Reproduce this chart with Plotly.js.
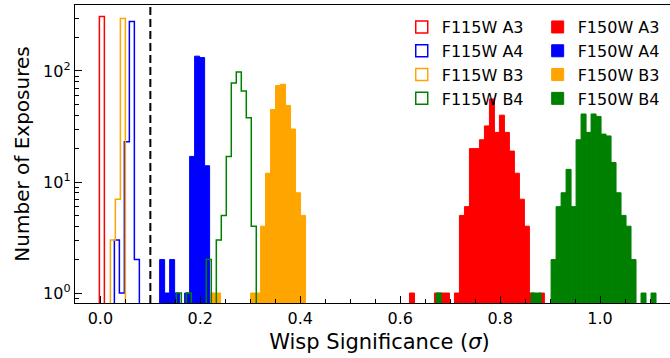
<!DOCTYPE html>
<html><head><meta charset="utf-8">
<script src="https://cdn.plot.ly/plotly-3.0.1.min.js"></script>
<style>html,body{margin:0;padding:0;overflow:hidden;width:670px;height:358px;background:#fff}</style>
</head><body><div id="chart"></div>
<script>
// ---- data ----
const binWidth = 0.01;
const threshold = 0.1;

// F115W (step histograms): first bin left edge and counts per 0.01 bin
const f115wA3Start = -0.002;
const f115wA3Counts = [310];
const f115wA4Start = 0.028;
const f115wA4Counts = [3, 1, 23, 279, 2];
const f115wB3Start = 0.020;
const f115wB3Counts = [3, 7, 297];
const f115wB4Start = 0.152;
const f115wB4Counts = [1, 0, 1, 0, 0, 0, 2, 0, 3, 5, 17, 78, 98, 66, 38, 4];

// F150W (filled histograms)
const f150wA3Start = 0.6186;
const f150wA3Counts = [1, 0, 0, 0, 0, 1, 1, 1, 0, 1, 5, 6, 20, 20, 24, 32, 56, 28, 40, 28, 19, 12, 7, 4, 1, 0, 1];
const f150wA4Start = 0.1186;
const f150wA4Counts = [2, 1, 2, 1, 0, 1, 17, 136, 132, 14];
const f150wB3Start = 0.2206;
const f150wB3Counts = [1, 1, 0, 0, 0, 0, 0, 0, 1, 1, 4, 12, 45, 74, 76, 49, 30, 8, 5];
const f150wB4Start = 0.672;
const f150wB4Counts = [1, 0, 0, 0, 0, 0, 0, 0, 0, 0, 0, 0, 0, 0, 0, 0, 0, 0, 0, 1, 1, 0, 0,
  2, 6, 8, 13, 6, 24, 41, 28, 41, 39, 27, 26, 15, 8, 5, 4, 2, 0, 1, 0, 1];

const xTickVals = [0.0, 0.2, 0.4, 0.6, 0.8, 1.0];
const yTickVals = [1, 10, 100];
const yTickText = ['10<sup>0</sup>', '10<sup>1</sup>', '10<sup>2</sup>'];
const yMinorVals = [0.9, 2, 3, 4, 5, 6, 7, 8, 9, 20, 30, 40, 50, 60, 70, 80, 90, 200, 300];

const RED = '#ff0000', BLUE = '#0000ff', ORANGE = '#ffa500', GREEN = '#008000';
const FONT = 'DejaVu Sans, sans-serif';

// ---- helpers ----
const FLOOR = 1e-3;
function stepTrace(start, counts, color, name) {
  const xs = [start], ys = [FLOOR];
  counts.forEach((c, i) => { xs.push(start + i * binWidth); ys.push(c > 0 ? c : FLOOR); });
  xs.push(start + counts.length * binWidth); ys.push(FLOOR);
  return {type: 'scatter', mode: 'lines', x: xs, y: ys, name: name,
    line: {color: color, width: 1.5, shape: 'hv'}, showlegend: false, hoverinfo: 'skip'};
}
function stepLegendProxy(color, name) {
  return {type: 'bar', x: [null], y: [null], name: name, legend: 'legend',
    marker: {color: 'rgba(0,0,0,0)', line: {color: color, width: 1.5}}};
}
function filledTrace(start, counts, color, name) {
  const xs = counts.map((c, i) => start + (i + 0.5) * binWidth);
  const ys = counts.map(c => c > 0 ? c : null);
  return {type: 'bar', x: xs, y: ys, width: binWidth, name: name, legend: 'legend2',
    marker: {color: color, line: {color: color, width: 1}}};
}

const traces = [
  filledTrace(f150wA3Start, f150wA3Counts, RED, 'F150W A3'),
  filledTrace(f150wA4Start, f150wA4Counts, BLUE, 'F150W A4'),
  filledTrace(f150wB3Start, f150wB3Counts, ORANGE, 'F150W B3'),
  filledTrace(f150wB4Start, f150wB4Counts, GREEN, 'F150W B4'),
  stepTrace(f115wA3Start, f115wA3Counts, RED, 'F115W A3'),
  stepTrace(f115wA4Start, f115wA4Counts, BLUE, 'F115W A4'),
  stepTrace(f115wB3Start, f115wB3Counts, ORANGE, 'F115W B3'),
  stepTrace(f115wB4Start, f115wB4Counts, GREEN, 'F115W B4'),
  stepLegendProxy(RED, 'F115W A3'),
  stepLegendProxy(BLUE, 'F115W A4'),
  stepLegendProxy(ORANGE, 'F115W B3'),
  stepLegendProxy(GREEN, 'F115W B4')
];

const legendCommon = {
  font: {family: FONT, size: 16, color: '#000'},
  bgcolor: 'rgba(0,0,0,0)', borderwidth: 0,
  xanchor: 'left', yanchor: 'top', y: 0.983, traceorder: 'normal',
  tracegroupgap: 0
};

const layout = {
  width: 700, height: 358,
  margin: {l: 75, r: 16, t: 5, b: 55},
  paper_bgcolor: '#fff', plot_bgcolor: '#fff',
  barmode: 'overlay',
  font: {family: FONT, size: 16, color: '#000'},
  xaxis: {
    range: [-0.0508, 1.168], tickvals: xTickVals, tickformat: '.1f',
    ticks: 'inside', ticklen: 7, tickwidth: 1, tickcolor: '#000',
    minor: {dtick: 0.05, ticks: 'inside', ticklen: 4, tickwidth: 1, tickcolor: '#000', showgrid: false},
    showline: true, linecolor: '#000', linewidth: 1.3, mirror: true,
    showgrid: false, zeroline: false,
    tickfont: {family: FONT, size: 16, color: '#000'},
    title: {text: 'Wisp Significance (<i>σ</i>)', font: {family: FONT, size: 21, color: '#000'}, standoff: 7}
  },
  yaxis: {
    type: 'log', range: [Math.log10(0.813), Math.log10(393)],
    tickvals: yTickVals, ticktext: yTickText,
    ticks: 'inside', ticklen: 7, tickwidth: 1, tickcolor: '#000',
    minor: {tickvals: yMinorVals, ticks: 'inside', ticklen: 4, tickwidth: 1, tickcolor: '#000', showgrid: false},
    showline: true, linecolor: '#000', linewidth: 1.3, mirror: true,
    showgrid: false, zeroline: false,
    tickfont: {family: FONT, size: 16, color: '#000'},
    title: {text: 'Number of Exposures', font: {family: FONT, size: 20, color: '#000'}, standoff: 8}
  },
  legend: Object.assign({}, legendCommon, {x: 0.5365}),
  legend2: Object.assign({}, legendCommon, {x: 0.7597}),
  shapes: [{type: 'line', xref: 'x', yref: 'paper', x0: threshold, x1: threshold, y0: 0, y1: 1,
    line: {color: '#000', width: 2, dash: '8px,4px'}}],
  showlegend: true
};

Plotly.newPlot('chart', traces, layout, {displayModeBar: false, staticPlot: true});
</script></body></html>
